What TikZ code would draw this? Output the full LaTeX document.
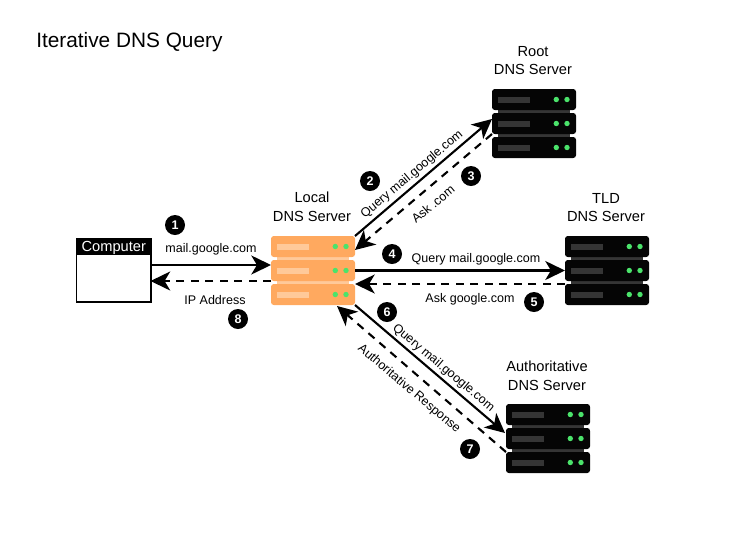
\documentclass[tikz,border=0pt]{standalone}
\usepackage{fontspec}
\setmainfont{Liberation Sans}
\usetikzlibrary{arrows.meta}
\definecolor{rackorange}{HTML}{FFA95F}
\definecolor{racklight}{HTML}{FFC999}
\definecolor{rackblack}{HTML}{050505}
\definecolor{rackgrey}{HTML}{353535}
\definecolor{rackgreen}{HTML}{4BE36B}
\tikzset{
    rackrow/.style={rectangle,rounded corners=2pt,minimum width=2.1cm,minimum height=0.525cm,inner sep=0pt,outer sep=0pt,anchor=north west},
    racklabel/.style={align=center,font=\fontsize{10.4}{13.2}\selectfont},
    msg/.style={font=\fontsize{8.9}{10}\selectfont,inner sep=0pt},
    badge/.style={circle,fill=black,text=white,minimum size=0.5cm,inner sep=0pt,font=\fontsize{8.9}{10}\selectfont\bfseries},
    query/.style={line width=1.5pt,-{Stealth[length=14pt,width=13.5pt,inset=4pt]}},
    answer/.style={query,dash pattern=on 5.7pt off 4.6pt},
}
% Server: Name, x, y, Farbe, Balkenfarbe
\newcommand{\serverrack}[5]{
    \begin{scope}[shift={(#2,#3)}]
        \fill[#5] (6,20) rectangle (78,25);
        \fill[#5] (6,44) rectangle (78,49);
        \foreach \rowname/\rowy in {top/0,mid/24,bot/48}{
            \node[rackrow,fill=#4] (#1\rowname) at (0,\rowy) {};
            \fill[#5] (6,\rowy+7.5) rectangle (37.5,\rowy+13.5);
            \fill[rackgreen] (64.3,\rowy+10.5) circle (2.7);
            \fill[rackgreen] (75,\rowy+10.5) circle (2.7);
        }
    \end{scope}
}
\begin{document}
\begin{tikzpicture}[x=0.025cm,y=-0.025cm]
    \useasboundingbox (0,0) rectangle (730,541);
    % Titel
    \node[anchor=west,inner sep=0pt,font=\fontsize{14.8}{17}\selectfont] (title) at (36,42) {Iterative DNS Query};
    % Computer
    \node[draw=black,line width=1.4pt,fill=white,minimum width=1.85cm,minimum height=1.58cm,inner sep=0pt,outer sep=0pt,anchor=north west] (computer) at (76.5,238.5) {};
    \node[fill=black,text=white,minimum width=1.85cm,minimum height=0.4cm,inner sep=0pt,text height=7.2pt,text depth=0pt,anchor=north west,font=\fontsize{10.4}{12}\selectfont] (computerhead) at (76.5,238.5) {Computer};
    % Server
    \serverrack{local}{271}{236}{rackorange}{racklight}
    \serverrack{root}{492}{89}{rackblack}{rackgrey}
    \serverrack{tld}{565}{236}{rackblack}{rackgrey}
    \serverrack{auth}{506}{404}{rackblack}{rackgrey}
    \node[racklabel] (locallabel) at (312,207) {Local\\DNS Server};
    \node[racklabel] (rootlabel) at (533,60.5) {Root\\DNS Server};
    \node[racklabel] (tldlabel) at (606,207.5) {TLD\\DNS Server};
    \node[racklabel] (authlabel) at (547,375.5) {Authoritative\\DNS Server};
    % freie Enden
    \coordinate (localin) at (271,265);
    \coordinate (roottip) at (492,119);
    \coordinate (localtoptip) at (355,250);
    \coordinate (authtip) at (505,433);
    \coordinate (localbottip) at (337,306);
    % Computer <-> Local
    \draw[query] (computer.east |- localin) -- (localin);
    \draw[answer] (localmid.south west) -- (computer.east |- localmid.south west);
    % Local <-> Root
    \draw[query] (localtop.north east) -- (roottip);
    \draw[answer] (rootmid.south west) -- (localtoptip);
    % Local <-> TLD
    \draw[query] (localmid.east) -- (tldmid.west);
    \draw[answer] (tldbot.north west) -- (localbot.north east);
    % Local <-> Authoritative
    \draw[query] (localbot.south east) -- (authtip);
    \draw[answer] (authbot.north west) -- (localbottip);
    % Texte
    \node[msg] (msgone) at (211,249) {mail.google.com};
    \node[msg] (msgeight) at (215,300.5) {IP Address};
    \node[msg,rotate=40] (msgtwo) at (412,174.5) {Query mail.google.com};
    \node[msg,rotate=40] (msgthree) at (433,204) {Ask .com};
    \node[msg] (msgfour) at (476,259) {Query mail.google.com};
    \node[msg] (msgfive) at (470,299) {Ask google.com};
    \node[msg,rotate=-40] (msgsix) at (443.5,368) {Query mail.google.com};
    \node[msg,rotate=-40] (msgseven) at (409,389) {Authoritative Response};
    % Nummern
    \node[badge] (badgeone) at (175,225) {1};
    \node[badge] (badgetwo) at (370,181) {2};
    \node[badge] (badgethree) at (471,176) {3};
    \node[badge] (badgefour) at (392,254) {4};
    \node[badge] (badgefive) at (534,302) {5};
    \node[badge] (badgesix) at (387,312) {6};
    \node[badge] (badgeseven) at (470,449) {7};
    \node[badge] (badgeeight) at (238,319) {8};
\end{tikzpicture}
\end{document}
